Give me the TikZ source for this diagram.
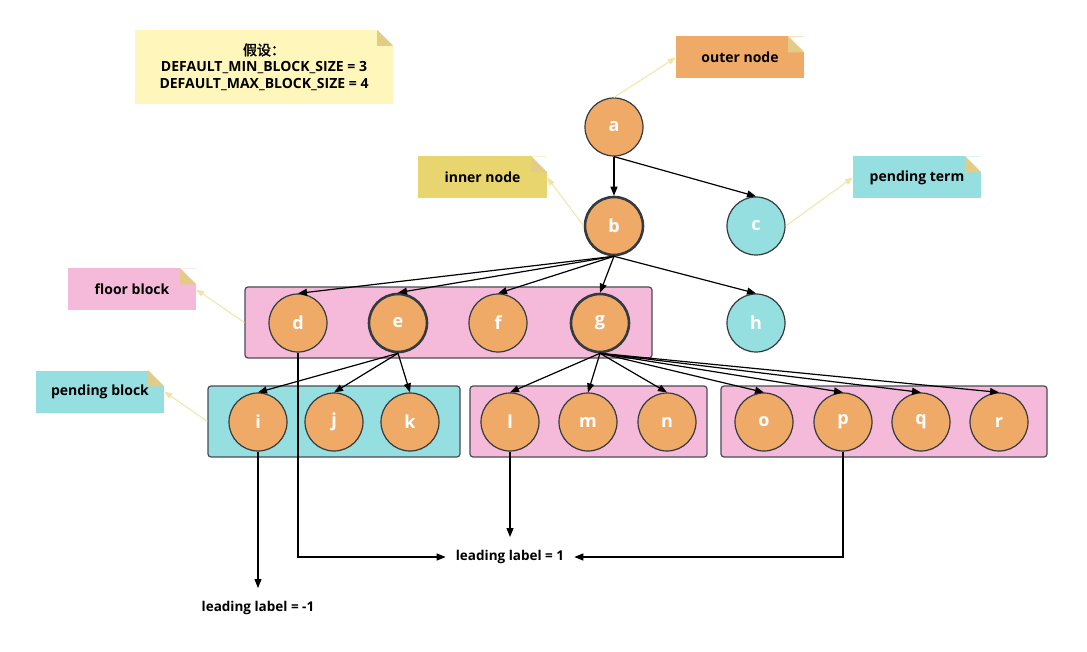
\documentclass[tikz,border=0pt]{standalone}
\usepackage{fontspec}
\setmainfont{Open Sans}
\newfontfamily\cjk{Noto Sans CJK SC}[AutoFakeBold=2]
\usetikzlibrary{arrows.meta}
\definecolor{orangec}{HTML}{F0AA67}
\definecolor{cyanc}{HTML}{95DFE0}
\definecolor{pinkc}{HTML}{F5BADA}
\definecolor{notec}{HTML}{FFF6BB}
\definecolor{innerc}{HTML}{E9D56E}
\definecolor{foldc}{HTML}{E2CC87}
\definecolor{hintc}{HTML}{F1E4A4}
\definecolor{ringc}{HTML}{333A40}
\definecolor{blkc}{HTML}{4A4A56}
\tikzset{
  vtx/.style={circle, draw=ringc, line width=1.2pt, fill=orangec, minimum size=58pt,
    inner sep=0pt, text=white, font=\bfseries\fontsize{18}{18}\selectfont},
  vin/.style={vtx, line width=2.6pt},
  vpend/.style={vtx, fill=cyanc},
  blk/.style={draw=blkc, line width=1.2pt, rounded corners=3pt, inner sep=0pt},
  edge/.style={-{Triangle[length=9pt,width=7pt]}, line width=1.2pt, draw=black},
  hint/.style={-{Triangle[length=8pt,width=6pt]}, line width=1pt, draw=hintc},
  notebox/.style={inner sep=0pt, align=center, font=\bfseries\fontsize{14}{16.5}\selectfont},
  lbl/.style={inner xsep=10pt, inner ysep=13pt, font=\bfseries\fontsize{13.5}{13.5}\selectfont}
}
\newcommand{\Note}[7]{% name,x,y,width,height,fill,text
  \node[notebox, fill=#6, minimum width=#4pt, minimum height=#5pt] (#1) at (#2,#3) {#7};
  \fill[white] (#1.north east) -- ([xshift=-16pt]#1.north east) -- ([yshift=-16pt]#1.north east) -- cycle;
  \fill[foldc] ([xshift=-16pt]#1.north east) -- ([xshift=-16pt,yshift=-16pt]#1.north east) -- ([yshift=-16pt]#1.north east) -- cycle;
}

\begin{document}
\begin{tikzpicture}[x=1pt,y=-1pt]
  \useasboundingbox (0,0) rectangle (1087,652);
  % notes
  \Note{cond}{264}{67}{258}{74}{notec}{{\cjk 假设：}\\DEFAULT\_MIN\_BLOCK\_SIZE = 3\\DEFAULT\_MAX\_BLOCK\_SIZE = 4}
  \Note{outer}{740}{57.5}{128}{42}{orangec}{outer node}
  \Note{inner}{482.5}{177.5}{129}{42}{innerc}{inner node}
  \Note{pendterm}{917}{177.5}{128}{42}{cyanc}{pending term}
  \Note{floor}{132}{289.5}{128}{42}{pinkc}{floor block}
  \Note{pendblk}{100}{391.5}{128}{42}{cyanc}{pending block}

  % blocks
  \node[blk, fill=pinkc, minimum width=407pt, minimum height=71pt] (blkA) at (448.5,322.5) {};
  \node[blk, fill=cyanc, minimum width=252pt, minimum height=71pt] (blkB) at (334,421.5) {};
  \node[blk, fill=pinkc, minimum width=237pt, minimum height=71pt] (blkC) at (588.5,421.5) {};
  \node[blk, fill=pinkc, minimum width=326pt, minimum height=71pt] (blkD) at (884,421.5) {};

  % tree nodes
  \node[vtx]   (a) at (614,127) {a};
  \node[vin]   (b) at (614,226) {b};
  \node[vpend] (c) at (756,226) {c};
  \node[vtx]   (d) at (298,323) {d};
  \node[vin]   (e) at (398,323) {e};
  \node[vtx]   (f) at (498,323) {f};
  \node[vin]   (g) at (600,323) {g};
  \node[vpend] (h) at (756,323) {h};
  \node[vtx]   (i) at (258,422) {i};
  \node[vtx]   (j) at (334,422) {j};
  \node[vtx]   (k) at (410,422) {k};
  \node[vtx]   (l) at (510,422) {l};
  \node[vtx]   (m) at (588,422) {m};
  \node[vtx]   (n) at (667,422) {n};
  \node[vtx]   (o) at (764,422) {o};
  \node[vtx]   (p) at (843,422) {p};
  \node[vtx]   (q) at (921,422) {q};
  \node[vtx]   (r) at (999,422) {r};

  \node[lbl] (lead)  at (510,557) {leading label = 1};
  \node[lbl] (leadn) at (258,608) {leading label = -1};

  % edges
  \draw[edge] (a.south) -- (b.north);
  \draw[edge] (a.south) -- (c.north);
  \foreach \t in {d,e,f,g,h} \draw[edge] (b.south) -- (\t.north);
  \foreach \t in {i,j,k} \draw[edge] (e.south) -- (\t.north);
  \foreach \t in {l,m,n,o,p,q,r} \draw[edge] (g.south) -- (\t.north);

  \draw[edge] (i.south) -- (leadn.north);
  \draw[edge] (l.south) -- (lead.north);
  \draw[edge] (d.south) |- (lead.west);
  \draw[edge] (p.south) |- (lead.east);

  % hints
  \draw[hint] (a.north) -- (outer.west);
  \draw[hint] (b.west) -- (inner.east);
  \draw[hint] (c.east) -- (pendterm.west);
  \draw[hint] (blkA.west) -- (floor.east);
  \draw[hint] (blkB.west) -- (pendblk.east);
\end{tikzpicture}
\end{document}
